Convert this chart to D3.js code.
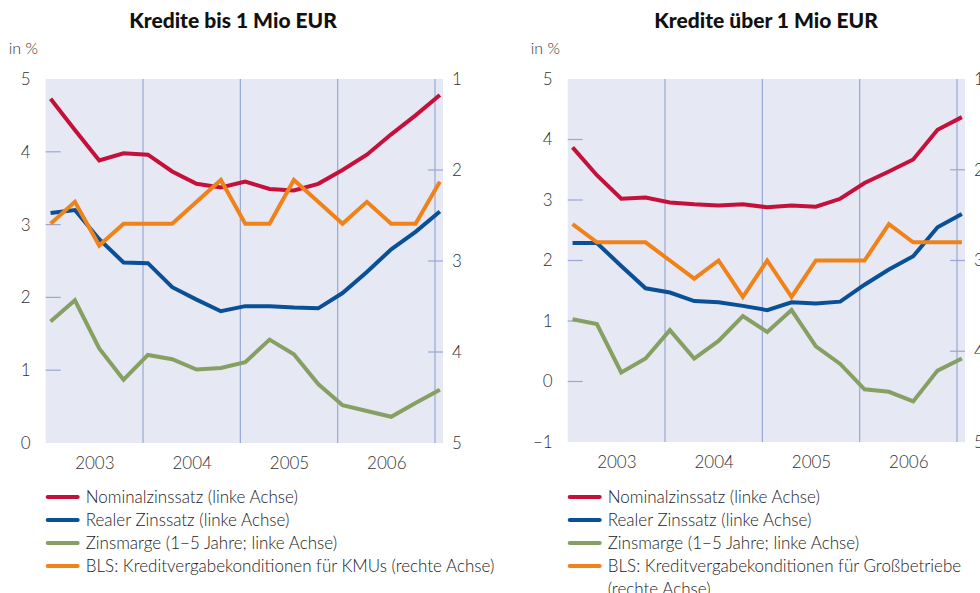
<!DOCTYPE html>
<html>
<head>
<meta charset="utf-8">
<script src="https://cdn.jsdelivr.net/npm/d3@7"></script>
<style>
  body { margin: 0; background: #fff; }
  svg text { font-family: Lato, "Open Sans", sans-serif; }
</style>
</head>
<body>
<svg id="chart" width="980" height="593"></svg>
<script>
// quarters 2003Q1 .. 2007Q1
const quarters = ["2003Q1","2003Q2","2003Q3","2003Q4","2004Q1","2004Q2","2004Q3","2004Q4",
  "2005Q1","2005Q2","2005Q3","2005Q4","2006Q1","2006Q2","2006Q3","2006Q4","2007Q1"];
const years = ["2003", "2004", "2005", "2006"];

// Kredite bis 1 Mio EUR
const smallNominal = [4.73, 4.3, 3.88, 3.98, 3.96, 3.73, 3.56, 3.51, 3.59, 3.49, 3.47, 3.56, 3.75, 3.96, 4.24, 4.5, 4.78];
const smallReal = [3.16, 3.2, 2.8, 2.48, 2.47, 2.14, 1.97, 1.81, 1.88, 1.88, 1.86, 1.85, 2.06, 2.35, 2.66, 2.9, 3.18];
const smallMargin = [1.67, 1.96, 1.3, 0.87, 1.21, 1.15, 1.01, 1.03, 1.11, 1.42, 1.22, 0.81, 0.52, 0.44, 0.36, 0.55, 0.73];
const smallBLS = [2.59, 2.35, 2.83, 2.59, 2.59, 2.59, 2.35, 2.11, 2.59, 2.59, 2.11, 2.35, 2.59, 2.35, 2.59, 2.59, 2.13];

// Kredite über 1 Mio EUR
const largeNominal = [3.87, 3.41, 3.02, 3.04, 2.96, 2.93, 2.91, 2.93, 2.88, 2.91, 2.89, 3.02, 3.28, 3.47, 3.67, 4.16, 4.37];
const largeReal = [2.29, 2.29, 1.91, 1.54, 1.47, 1.33, 1.31, 1.25, 1.18, 1.31, 1.29, 1.32, 1.6, 1.85, 2.07, 2.55, 2.77];
const largeMargin = [1.03, 0.95, 0.15, 0.38, 0.85, 0.38, 0.67, 1.08, 0.82, 1.18, 0.58, 0.29, -0.13, -0.17, -0.33, 0.18, 0.38];
const largeBLS = [2.6, 2.8, 2.8, 2.8, 3.0, 3.2, 3.0, 3.4, 3.0, 3.4, 3.0, 3.0, 3.0, 2.6, 2.8, 2.8, 2.8];

const leftTicksSmall = [0, 1, 2, 3, 4, 5];
const leftTicksLarge = [-1, 0, 1, 2, 3, 4, 5];
const rightTicks = [1, 2, 3, 4, 5];

const colors = { nominal: "#c4103a", real: "#0a5096", margin: "#869f62", bls: "#f0821a" };

const svg = d3.select("#chart");
const fmt = d3.format("d");

function drawPanel(opts) {
  const g = svg.append("g");
  const top = 79, bottom = opts.bottom;

  // x in quarters since start of 2003
  const x = d3.scaleLinear().domain([0, 16]).range([opts.x0, opts.x0 + 389.3]);
  const xEnd = x(16.33);
  const y = d3.scaleLinear().domain(opts.leftDomain).range([bottom, top]);
  const yr = d3.scaleLinear().domain([1, 5]).range([top, bottom]);

  g.append("text")
    .attr("x", opts.titleX).attr("y", 28)
    .attr("text-anchor", "middle")
    .attr("font-size", 21).attr("font-weight", 900).attr("fill", "#111")
    .text(opts.title);

  g.append("text")
    .attr("x", opts.x0 - 37).attr("y", 54)
    .attr("font-size", 16).attr("font-weight", 300).attr("fill", "#333")
    .text("in %");

  g.append("rect")
    .attr("x", x(0)).attr("y", top)
    .attr("width", xEnd - x(0)).attr("height", bottom - top)
    .attr("fill", "#e6e9f3");

  // year boundaries
  g.selectAll(".vgrid").data([4, 8, 12, 16]).join("line")
    .attr("x1", d => x(d)).attr("x2", d => x(d))
    .attr("y1", top).attr("y2", bottom)
    .attr("stroke", "#98a7d6").attr("stroke-width", 1.2);

  // inner tick marks
  g.selectAll(".ltick").data(opts.leftTicks.slice(1, -1)).join("line")
    .attr("x1", x(0)).attr("x2", x(0) + 15)
    .attr("y1", d => y(d)).attr("y2", d => y(d))
    .attr("stroke", "#98a7d6").attr("stroke-width", 1.2);
  g.selectAll(".rtick").data(rightTicks.slice(1, -1)).join("line")
    .attr("x1", xEnd - 15).attr("x2", xEnd)
    .attr("y1", d => yr(d)).attr("y2", d => yr(d))
    .attr("stroke", "#98a7d6").attr("stroke-width", 1.2);

  const yAxisL = g.append("g")
    .attr("transform", `translate(${x(0)},0)`)
    .call(d3.axisLeft(y).tickValues(opts.leftTicks).tickFormat(fmt).tickSize(0).tickPadding(15));
  const yAxisR = g.append("g")
    .attr("transform", `translate(${xEnd},0)`)
    .call(d3.axisRight(yr).tickValues(rightTicks).tickFormat(fmt).tickSize(0).tickPadding(9));
  const xAxis = g.append("g")
    .attr("transform", `translate(0,${bottom})`)
    .call(d3.axisBottom(d3.scaleOrdinal().domain(years).range(years.map((d, i) => x(2 + i * 4))))
      .tickSize(0).tickPadding(14));
  [yAxisL, yAxisR, xAxis].forEach(a => {
    a.select(".domain").remove();
    a.selectAll("text")
      .attr("font-family", "Lato, 'Open Sans', sans-serif")
      .attr("font-size", 17).attr("font-weight", 300).attr("fill", "#333");
  });

  const lineL = d3.line().x((d, i) => x(i + 0.2)).y(d => y(d));
  const lineR = d3.line().x((d, i) => x(i + 0.2)).y(d => yr(d));

  const series = [
    { data: opts.margin, color: colors.margin, line: lineL },
    { data: opts.real, color: colors.real, line: lineL },
    { data: opts.nominal, color: colors.nominal, line: lineL },
    { data: opts.bls, color: colors.bls, line: lineR }
  ];
  series.forEach(s => {
    g.append("path")
      .datum(s.data)
      .attr("fill", "none")
      .attr("stroke", s.color)
      .attr("stroke-width", 4)
      .attr("stroke-linejoin", "miter")
      .attr("d", s.line);
  });

  // legend
  const legend = g.append("g").attr("transform", `translate(${opts.x0 + 2},497)`);
  const items = [
    { label: ["Nominalzinssatz (linke Achse)"], color: colors.nominal },
    { label: ["Realer Zinssatz (linke Achse)"], color: colors.real },
    { label: ["Zinsmarge (1\u22125 Jahre; linke Achse)"], color: colors.margin },
    { label: opts.blsLabel, color: colors.bls }
  ];
  items.forEach((it, i) => {
    const row = legend.append("g").attr("transform", `translate(0,${i * 23})`);
    row.append("line")
      .attr("x1", 0).attr("x2", 30).attr("y1", 0).attr("y2", 0)
      .attr("stroke", it.color).attr("stroke-width", 4).attr("stroke-linecap", "round");
    it.label.forEach((t, j) => {
      row.append("text")
        .attr("x", 38).attr("y", 6 + j * 23)
        .attr("font-size", 17).attr("font-weight", 300).attr("fill", "#222")
        .text(t);
    });
  });
}

drawPanel({
  title: "Kredite bis 1 Mio EUR", titleX: 233,
  x0: 45.7, bottom: 443, leftDomain: [0, 5], leftTicks: leftTicksSmall,
  nominal: smallNominal, real: smallReal, margin: smallMargin, bls: smallBLS,
  blsLabel: ["BLS: Kreditvergabekonditionen für KMUs (rechte Achse)"]
});

drawPanel({
  title: "Kredite über 1 Mio EUR", titleX: 766,
  x0: 567.7, bottom: 442, leftDomain: [-1, 5], leftTicks: leftTicksLarge,
  nominal: largeNominal, real: largeReal, margin: largeMargin, bls: largeBLS,
  blsLabel: ["BLS: Kreditvergabekonditionen für Großbetriebe", "(rechte Achse)"]
});
</script>
</body>
</html>
